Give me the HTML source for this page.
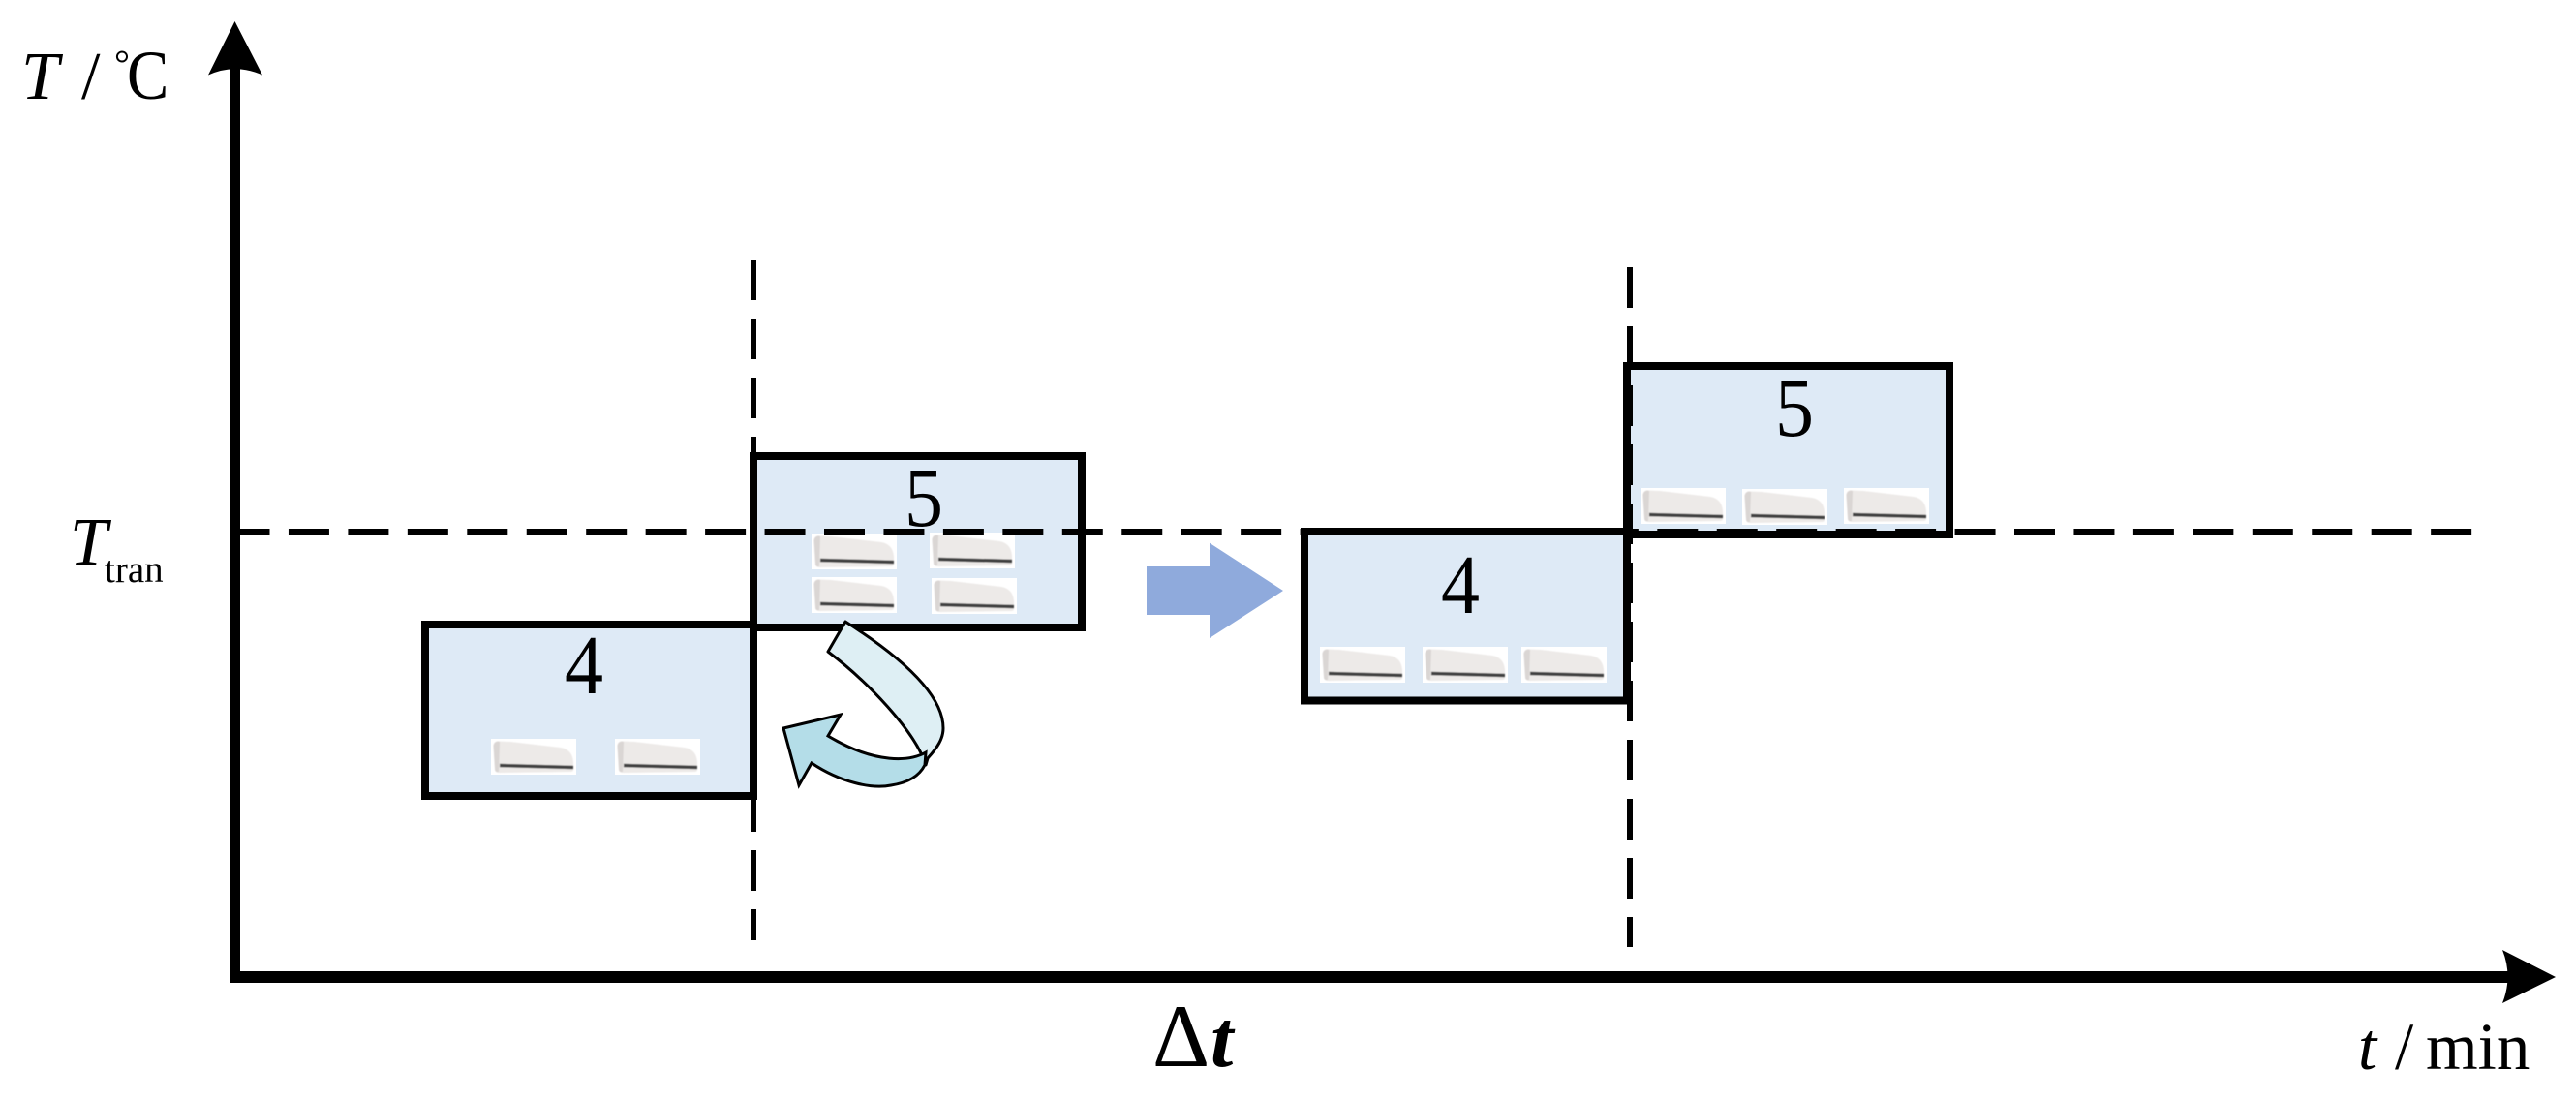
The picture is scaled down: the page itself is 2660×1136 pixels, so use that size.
<!DOCTYPE html>
<html>
<head>
<meta charset="utf-8">
<title>Diagram</title>
<style>
html,body{margin:0;padding:0;background:#fff;}
svg{display:block;}
text{font-family:"Liberation Serif","Noto Serif CJK SC",serif;fill:#000;}
</style>
</head>
<body>
<svg width="2660" height="1136" viewBox="0 0 2660 1136" xmlns="http://www.w3.org/2000/svg">
<defs>
  <filter id="b" x="-5%" y="-10%" width="110%" height="120%"><feGaussianBlur stdDeviation="0.6"/></filter>
  <symbol id="ac" viewBox="0 0 88 37" width="88" height="37" overflow="visible">
    <rect x="0" y="0" width="88" height="37" fill="#fff"/>
    <g filter="url(#b)">
      <path d="M2.500 7 Q3 3 7 2.500 L20 3 L72 9 Q84 11 85 24 L85 32 Q85 34 82 34 L9 35 Q4 35 4 31 Z" fill="#EDEAE8"/>
      <path d="M2.500 7 Q3 3 7 2.500 L9 3 L8 34 Q4 35 4 31 Z" fill="#DAD6D4"/>
      <path d="M9 27.500 L85 29.500" stroke="#3F3F3F" stroke-width="3.500" fill="none"/>
    </g>
  </symbol>
</defs>
<rect width="2660" height="1136" fill="#fff"/>

<!-- Boxes -->
<rect x="439" y="645" width="339" height="177" fill="#DEEAF6" stroke="#000" stroke-width="8"/>
<rect x="778" y="471" width="339" height="177" fill="#DEEAF6" stroke="#000" stroke-width="8"/>
<rect x="1347" y="549" width="333" height="174.500" fill="#DEEAF6" stroke="#000" stroke-width="8"/>
<rect x="1680" y="378" width="333" height="174" fill="#DEEAF6" stroke="#000" stroke-width="8"/>

<!-- AC units -->
<use href="#ac" x="507" y="763"/>
<use href="#ac" x="635" y="763"/>
<use href="#ac" x="838" y="551"/>
<use href="#ac" x="960" y="550"/>
<use href="#ac" x="838" y="596"/>
<use href="#ac" x="962" y="597"/>
<use href="#ac" x="1363" y="668"/>
<use href="#ac" x="1469" y="668"/>
<use href="#ac" x="1571" y="668"/>
<use href="#ac" x="1694" y="504"/>
<use href="#ac" x="1799" y="505"/>
<use href="#ac" x="1904" y="504"/>

<!-- Numbers -->
<text transform="translate(603 716) scale(1 1.08)" font-size="80" text-anchor="middle">4</text>
<text transform="translate(954 543) scale(1 1.08)" font-size="80" text-anchor="middle">5</text>
<text transform="translate(1508 633) scale(1 1.08)" font-size="80" text-anchor="middle">4</text>
<text transform="translate(1853 450) scale(1 1.08)" font-size="80" text-anchor="middle">5</text>

<!-- Dashed lines -->
<line x1="240" y1="549" x2="2553" y2="549" stroke="#000" stroke-width="6" stroke-dasharray="42 19.450" stroke-dashoffset="3.500"/>
<line x1="778" y1="268" x2="778" y2="971" stroke="#000" stroke-width="6" stroke-dasharray="42 19"/>
<line x1="1683" y1="276" x2="1683" y2="978" stroke="#000" stroke-width="6" stroke-dasharray="42 19"/>

<!-- Axes -->
<rect x="237" y="70" width="11" height="945" fill="#000"/>
<rect x="237" y="1003" width="2355" height="12" fill="#000"/>
<path d="M242.500 22 L271 77.500 Q242.500 65 215 77.500 Z" fill="#000"/>
<path d="M2639 1009 L2584 981 Q2595 1008.500 2584 1036 Z" fill="#000"/>

<!-- Blue arrow -->
<path d="M1184 585 H1249 V560.700 L1325 610 L1249 659 V635 H1184 Z" fill="#8FAADC"/>

<!-- Curved arrow -->
<path d="M873 642 L855 673 C895 703 945 755 956 790 L958 783 C968 772 974 763 974 752 C974 715 925 675 873 642 Z" fill="#DEEFF4" stroke="#000" stroke-width="3" stroke-linejoin="round"/>
<path d="M956 777 C940 786 905 790 855 760 L868 738 L809 752 L825 811 L838 788 C868 808 900 815 920 811 C940 808 950 800 955 790 Z" fill="#B4DDE8" stroke="#000" stroke-width="3" stroke-linejoin="miter"/>

<!-- Labels -->
<text x="22" y="102" font-size="70" font-style="italic">T</text>
<text x="84" y="102" font-size="70">/</text>
<text x="118" y="79" font-size="40">°</text>
<text transform="translate(131 102) scale(0.9 1)" font-size="72">C</text>

<text x="72" y="583" font-size="70" font-style="italic">T</text>
<text x="108" y="601" font-size="39">tran</text>

<text x="1190" y="1101" font-size="92">Δ</text>
<text x="1250" y="1101" font-size="84" font-style="italic" font-weight="bold">t</text>

<text x="2435" y="1104" font-size="69" font-style="italic">t</text>
<text x="2473" y="1104" font-size="69">/</text>
<text x="2505" y="1104" font-size="69">min</text>
</svg>
</body>
</html>
